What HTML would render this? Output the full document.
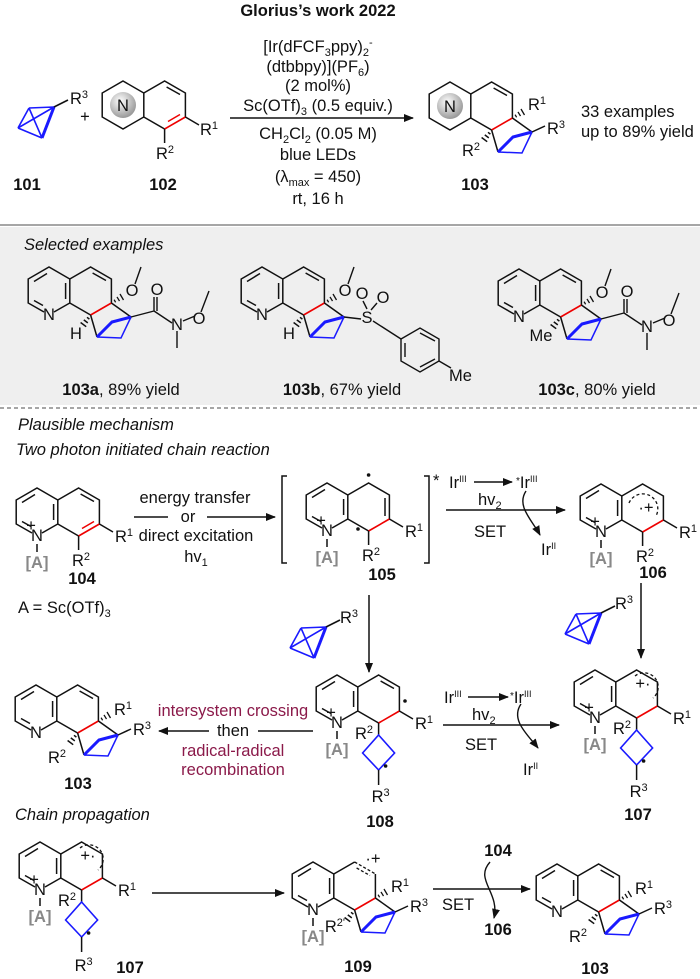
<!DOCTYPE html>
<html><head><meta charset="utf-8"><style>
body{margin:0;background:#fff}
svg{display:block}
text{font-family:"Liberation Sans",sans-serif;font-size:16.5px;fill:#111}
.b{font-weight:bold}
.i{font-style:italic}
.m{text-anchor:middle}
.e{text-anchor:end}
.g{fill:#888;font-weight:bold}
.r{fill:#8b1a4a}
</style></head><body>
<svg width="700" height="979" viewBox="0 0 700 979" xmlns="http://www.w3.org/2000/svg">
<defs>
<marker id="ah" markerWidth="10" markerHeight="8" refX="9" refY="4" orient="auto" markerUnits="userSpaceOnUse"><path d="M0,0 L10,4 L0,8 Z" fill="#111"/></marker>
<g id="pyN" fill="none" stroke="#111" stroke-width="1.5">
<path d="M5,21 L20.8,12 L20.8,-12 L0,-24 L-20.8,-12 L-20.8,12 L-5,21"/>
<path d="M-15,-9.5 L-2,-17.5 M16.6,-8 L16.6,8 M-15,9.5 L-6,14.5"/>
</g>
<g id="rr" fill="none" stroke="#111" stroke-width="1.5">
<path d="M20.8,-12 L41.6,-24 L62.4,-12 L62.4,12 M41.6,24 L20.8,12"/>
</g>
<g id="gh" fill="none" stroke="#111" stroke-width="1.5"><path d="M43.6,-18 L57,-10.5"/></g>
<g id="ij" fill="none" stroke="#e00" stroke-width="1.6"><path d="M62.4,12 L41.6,24"/></g>
<g id="prod" fill="none" stroke-width="1.5">
<path stroke="#111" d="M62.4,12 L82,26 M41.6,24 L48,46"/>
<path stroke="#1a1aff" d="M48,46 L72,47 L82,26"/>
<path stroke="#1a1aff" stroke-width="3" d="M48,46 L63,31 L82,26"/>
<path stroke="#111" d="M38,26.3 L40.4,28.1 M34.8,28.9 L38.8,31.9 M31.6,31.5 L37.2,35.7"/>
</g>
<g id="hashI" fill="none" stroke="#111" stroke-width="1.3"><path d="M65.1,8.7 L66.6,11.3 M68,5.9 L70.5,10.1 M71,3 L74.5,9"/></g>
<g id="bcb" fill="none" stroke="#1a1aff" stroke-width="1.6">
<path d="M-36,21 L0,0 M-25,1 L0,0 M-25,1 L-12,31 M-12,31 L-36,21 M-36,21 L-25,1"/>
<path d="M0,0 L-12,31" stroke-width="3"/>
<path d="M0,0 L14,-7" stroke="#111"/>
</g>
<g id="cb" fill="none" stroke="#1a1aff" stroke-width="1.6"><path d="M0,0 L16,18 L0,35 L-16,18 Z"/></g>
<radialGradient id="gr" cx="40%" cy="35%" r="65%"><stop offset="0" stop-color="#fff"/><stop offset="1" stop-color="#9a9a9a"/></radialGradient>
</defs>

<!-- top -->
<text x="318" y="16" class="b m">Glorius’s work 2022</text>
<g transform="translate(54,107)"><use href="#bcb"/><text x="16" y="-3">R<tspan font-size="11" dy="-6">3</tspan></text></g>
<text x="85" y="122" class="m">+</text>
<g transform="translate(123,105)">
<path d="M0,-24 L20.8,-12 L20.8,12 L0,24 L-20.8,12 L-20.8,-12 Z" fill="none" stroke="#111" stroke-width="1.5"/>
<use href="#rr"/><use href="#gh"/><use href="#ij"/><path d="M57,9.5 L45,16.5" stroke="#e00" stroke-width="1.5"/>
<circle cx="0" cy="0" r="13" fill="url(#gr)"/><text x="0" y="6" class="m">N</text>
<path d="M62.4,12 L76,20 M41.6,24 L41.6,38" stroke="#111" stroke-width="1.5"/>
<text x="77" y="30">R<tspan font-size="11" dy="-6">1</tspan></text>
<text x="42" y="54" class="m">R<tspan font-size="11" dy="-6">2</tspan></text>
</g>
<text x="27" y="190" class="b m">101</text><text x="163" y="190" class="b m">102</text><text x="475" y="190" class="b m">103</text>
<line x1="230" y1="118" x2="413" y2="118" stroke="#111" stroke-width="1.5" marker-end="url(#ah)"/>
<g class="m">
<text x="318" y="52" class="m">[Ir(dFCF<tspan font-size="11" dy="4">3</tspan><tspan dy="-4">ppy)</tspan><tspan font-size="11" dy="4">2</tspan><tspan font-size="11" dy="-10">-</tspan></text>
<text x="318" y="72" class="m">(dtbbpy)](PF<tspan font-size="11" dy="4">6</tspan><tspan dy="-4">)</tspan></text>
<text x="318" y="91" class="m">(2 mol%)</text>
<text x="318" y="111" class="m">Sc(OTf)<tspan font-size="11" dy="4">3</tspan><tspan dy="-4"> (0.5 equiv.)</tspan></text>
<text x="318" y="139" class="m">CH<tspan font-size="11" dy="4">2</tspan><tspan dy="-4">Cl</tspan><tspan font-size="11" dy="4">2</tspan><tspan dy="-4"> (0.05 M)</tspan></text>
<text x="318" y="160" class="m">blue LEDs</text>
<text x="318" y="182" class="m">(λ<tspan font-size="11" dy="4">max</tspan><tspan dy="-4"> = 450)</tspan></text>
<text x="318" y="204" class="m">rt, 16 h</text>
</g>
<g transform="translate(450,106)">
<path d="M0,-24 L20.8,-12 L20.8,12 L0,24 L-20.8,12 L-20.8,-12 Z" fill="none" stroke="#111" stroke-width="1.5"/>
<use href="#rr"/><use href="#gh"/><use href="#ij"/><use href="#prod"/><use href="#hashI"/>
<path d="M82,26 L95,20" stroke="#111" stroke-width="1.5"/>
<circle cx="0" cy="0" r="13" fill="url(#gr)"/><text x="0" y="6" class="m">N</text>
<text x="78" y="4">R<tspan font-size="11" dy="-6">1</tspan></text>
<text x="97" y="28">R<tspan font-size="11" dy="-6">3</tspan></text>
<text x="30" y="50" class="e">R<tspan font-size="11" dy="-6">2</tspan></text>
</g>
<text x="581" y="117">33 examples</text>
<text x="581" y="137">up to 89% yield</text>
<line x1="0" y1="225" x2="700" y2="225" stroke="#888" stroke-width="1.5"/>
<rect x="0" y="227" width="700" height="178" fill="#efefef"/>
<text x="24" y="250" class="i">Selected examples</text>

<!-- 103a -->
<g transform="translate(49,291)">
<use href="#pyN"/><use href="#rr"/><use href="#gh"/><use href="#ij"/><use href="#prod"/><use href="#hashI"/>
<text x="0" y="29" class="m">N</text>
<text x="27" y="48" class="m">H</text>
<text x="83" y="5" class="m">O</text>
<path d="M86,-7 L92,-24 M82,26 L105,20 M105,20 L105,6 M108,20 L108,6 M105,20 L123,32 M128,40 L128,57 M134,30 L146,25 M152,21 L160,0" stroke="#111" stroke-width="1.4" fill="none"/>
<text x="108" y="4" class="m">O</text>
<text x="128" y="39" class="m">N</text>
<text x="150" y="33" class="m">O</text>
</g>
<text x="121" y="395" class="m"><tspan class="b">103a</tspan>, 89% yield</text>
<!-- 103b -->
<g transform="translate(262,291)">
<use href="#pyN"/><use href="#rr"/><use href="#gh"/><use href="#ij"/><use href="#prod"/><use href="#hashI"/>
<text x="0" y="29" class="m">N</text>
<text x="27" y="48" class="m">H</text>
<text x="83" y="5" class="m">O</text>
<path d="M86,-7 L92,-24 M82,26 L99,28 M105,18 L101,10 M109,19 L115,12" stroke="#111" stroke-width="1.4" fill="none"/>
<text x="105" y="32" class="m">S</text>
<text x="100" y="8" class="m">O</text>
<text x="121" y="12" class="m">O</text>
<path d="M111,30 L139,48" stroke="#111" stroke-width="1.4"/>
<path d="M139,48 L158,37 L177,48 L177,70 L158,81 L139,70 Z M143,52 L143,66 M158,42 L173,50 M158,76 L173,68" stroke="#111" stroke-width="1.4" fill="none"/>
<path d="M177,70 L189,77" stroke="#111" stroke-width="1.4"/>
<text x="187" y="90">Me</text>
</g>
<text x="342" y="395" class="m"><tspan class="b">103b</tspan>, 67% yield</text>
<!-- 103c -->
<g transform="translate(519,293)">
<use href="#pyN"/><use href="#rr"/><use href="#gh"/><use href="#ij"/><use href="#prod"/><use href="#hashI"/>
<text x="0" y="29" class="m">N</text>
<text x="22" y="48" class="m">Me</text>
<text x="83" y="5" class="m">O</text>
<path d="M86,-7 L92,-24 M82,26 L105,20 M105,20 L105,6 M108,20 L108,6 M105,20 L123,32 M128,40 L128,57 M134,30 L146,25 M152,21 L160,0" stroke="#111" stroke-width="1.4" fill="none"/>
<text x="108" y="4" class="m">O</text>
<text x="128" y="39" class="m">N</text>
<text x="150" y="33" class="m">O</text>
</g>
<text x="597" y="395" class="m"><tspan class="b">103c</tspan>, 80% yield</text>
<line x1="0" y1="408" x2="700" y2="408" stroke="#888" stroke-width="1.5" stroke-dasharray="4,3"/>

<!-- mechanism -->
<text x="18" y="430" class="i">Plausible mechanism</text>
<text x="16" y="455" class="i">Two photon initiated chain reaction</text>

<!-- 104 -->
<g transform="translate(37,512)">
<use href="#pyN"/><use href="#rr"/><use href="#gh"/><use href="#ij"/><path d="M57,9.5 L45,16.5" stroke="#e00" stroke-width="1.5"/>
<text x="0" y="29" class="m">N</text><text x="-6" y="19" class="m" font-size="11">+</text>
<path d="M0,32 L0,40 M62.4,12 L76,20 M41.6,24 L41.6,38" stroke="#111" stroke-width="1.5"/>
<text x="0" y="56" class="m g">[A]</text>
<text x="78" y="30">R<tspan font-size="11" dy="-6">1</tspan></text>
<text x="44" y="54" class="m">R<tspan font-size="11" dy="-6">2</tspan></text>
<text x="45" y="72" class="b m">104</text>
</g>
<text x="18" y="613">A = Sc(OTf)<tspan font-size="11" dy="4">3</tspan></text>
<line x1="134" y1="517" x2="168" y2="517" stroke="#111" stroke-width="1.5"/>
<line x1="207" y1="517" x2="275" y2="517" stroke="#111" stroke-width="1.5" marker-end="url(#ah)"/>
<text x="195" y="503" class="m">energy transfer</text>
<text x="188" y="522" class="m">or</text>
<text x="196" y="541" class="m">direct excitation</text>
<text x="196" y="562" class="m">hv<tspan font-size="11" dy="4">1</tspan></text>

<!-- 105 -->
<path d="M287,476 L282,476 L282,563 L287,563 M424,476 L429,476 L429,563 L424,563" fill="none" stroke="#111" stroke-width="1.5"/>
<text x="433" y="486" font-size="12">*</text>
<g transform="translate(327,507)">
<use href="#pyN"/>
<path d="M20.8,-12 L41.6,-24 L62.4,-12 L62.4,12 M41.6,24 L20.8,12 M58,-9 L58,9" fill="none" stroke="#111" stroke-width="1.5"/>
<use href="#ij"/>
<circle cx="41.6" cy="-32" r="1.8" fill="#111"/><circle cx="31" cy="22" r="1.8" fill="#111"/>
<text x="0" y="29" class="m">N</text><text x="-6" y="19" class="m" font-size="11">+</text>
<path d="M0,32 L0,40 M62.4,12 L76,20 M41.6,24 L41.6,38" stroke="#111" stroke-width="1.5"/>
<text x="0" y="56" class="m g">[A]</text>
<text x="78" y="30">R<tspan font-size="11" dy="-6">1</tspan></text>
<text x="44" y="54" class="m">R<tspan font-size="11" dy="-6">2</tspan></text>
<text x="55" y="73" class="b m">105</text>
</g>
<text x="449" y="488">Ir<tspan font-size="9" dy="-6">III</tspan></text>
<line x1="474" y1="482" x2="512" y2="482" stroke="#111" stroke-width="1.5" marker-end="url(#ah)"/>
<text x="516" y="488"><tspan font-size="10" dy="-4">*</tspan><tspan dy="4">Ir</tspan><tspan font-size="9" dy="-6">III</tspan></text>
<text x="478" y="505">hv<tspan font-size="11" dy="4">2</tspan></text>
<line x1="446" y1="510" x2="565" y2="510" stroke="#111" stroke-width="1.5" marker-end="url(#ah)"/>
<text x="490" y="537" class="m">SET</text>
<path d="M526,491 C516,506 532,520 540,535" fill="none" stroke="#111" stroke-width="1.4" marker-end="url(#ah)"/>
<text x="541" y="555">Ir<tspan font-size="9" dy="-6">II</tspan></text>

<!-- 106 -->
<g transform="translate(601,508)">
<use href="#pyN"/><use href="#rr"/><use href="#ij"/>
<path d="M28,-5 A15,15 0 1 1 55,8" fill="none" stroke="#111" stroke-width="1.3" stroke-dasharray="3,2.5"/>
<text x="45" y="5" class="m" font-size="12">·+</text>
<text x="0" y="29" class="m">N</text><text x="-6" y="19" class="m" font-size="11">+</text>
<path d="M0,32 L0,40 M62.4,12 L76,20 M41.6,24 L41.6,38" stroke="#111" stroke-width="1.5"/>
<text x="0" y="56" class="m g">[A]</text>
<text x="78" y="30">R<tspan font-size="11" dy="-6">1</tspan></text>
<text x="44" y="54" class="m">R<tspan font-size="11" dy="-6">2</tspan></text>
<text x="52" y="70" class="b m">106</text>
</g>
<line x1="369" y1="595" x2="369" y2="672" stroke="#111" stroke-width="1.5" marker-end="url(#ah)"/>
<line x1="641" y1="583" x2="641" y2="658" stroke="#111" stroke-width="1.5" marker-end="url(#ah)"/>
<g transform="translate(326,627)"><use href="#bcb"/><text x="14" y="-4">R<tspan font-size="11" dy="-6">3</tspan></text></g>
<g transform="translate(601,613)"><use href="#bcb"/><text x="14" y="-4">R<tspan font-size="11" dy="-6">3</tspan></text></g>

<!-- 103 mid -->
<g transform="translate(36,709)">
<use href="#pyN"/><use href="#rr"/><use href="#gh"/><use href="#ij"/><use href="#prod"/><use href="#hashI"/>
<path d="M82,26 L95,20" stroke="#111" stroke-width="1.5"/>
<text x="0" y="29" class="m">N</text>
<text x="78" y="6">R<tspan font-size="11" dy="-6">1</tspan></text>
<text x="97" y="26">R<tspan font-size="11" dy="-6">3</tspan></text>
<text x="30" y="54" class="e">R<tspan font-size="11" dy="-6">2</tspan></text>
<text x="42" y="80" class="b m">103</text>
</g>
<line x1="313" y1="731" x2="258" y2="731" stroke="#111" stroke-width="1.5"/>
<line x1="209" y1="731" x2="159" y2="731" stroke="#111" stroke-width="1.5" marker-end="url(#ah)"/>
<text x="233" y="716" class="m r">intersystem crossing</text>
<text x="233" y="736" class="m">then</text>
<text x="233" y="756" class="m r">radical-radical</text>
<text x="233" y="775" class="m r">recombination</text>

<!-- 108 -->
<g transform="translate(337,699)">
<use href="#pyN"/><use href="#rr"/><use href="#gh"/><use href="#ij"/>
<circle cx="68" cy="2" r="1.8" fill="#111"/>
<text x="0" y="29" class="m">N</text><text x="-6" y="19" class="m" font-size="11">+</text>
<path d="M0,32 L0,40 M62.4,12 L76,20 M41.6,24 L41.6,36" stroke="#111" stroke-width="1.5"/>
<text x="0" y="56" class="m g">[A]</text>
<text x="78" y="30">R<tspan font-size="11" dy="-6">1</tspan></text>
<text x="36" y="40" class="e">R<tspan font-size="11" dy="-6">2</tspan></text>
<g transform="translate(41.6,36)"><use href="#cb"/><circle cx="7" cy="31" r="1.8" fill="#111"/><path d="M0,35 L0,50" stroke="#111" stroke-width="1.5"/><text x="2" y="67" class="m">R<tspan font-size="11" dy="-6">3</tspan></text></g>
<text x="43" y="128" class="b m">108</text>
</g>
<text x="444" y="703">Ir<tspan font-size="9" dy="-6">III</tspan></text>
<line x1="468" y1="697" x2="508" y2="697" stroke="#111" stroke-width="1.5" marker-end="url(#ah)"/>
<text x="510" y="703"><tspan font-size="10" dy="-4">*</tspan><tspan dy="4">Ir</tspan><tspan font-size="9" dy="-6">III</tspan></text>
<text x="472" y="720">hv<tspan font-size="11" dy="4">2</tspan></text>
<line x1="443" y1="725" x2="559" y2="725" stroke="#111" stroke-width="1.5" marker-end="url(#ah)"/>
<text x="481" y="750" class="m">SET</text>
<path d="M521,704 C510,720 528,735 538,748" fill="none" stroke="#111" stroke-width="1.4" marker-end="url(#ah)"/>
<text x="523" y="775">Ir<tspan font-size="9" dy="-6">II</tspan></text>

<!-- 107 right -->
<g transform="translate(595,694)">
<use href="#pyN"/><use href="#rr"/><use href="#ij"/>
<path d="M40,-18 A14,14 0 0 1 58,4" fill="none" stroke="#111" stroke-width="1.3" stroke-dasharray="3,2.5"/>
<text x="48" y="-5" class="m" font-size="12">+·</text>
<text x="0" y="29" class="m">N</text><text x="-6" y="19" class="m" font-size="11">+</text>
<path d="M0,32 L0,40 M62.4,12 L76,20 M41.6,24 L41.6,36" stroke="#111" stroke-width="1.5"/>
<text x="0" y="56" class="m g">[A]</text>
<text x="78" y="30">R<tspan font-size="11" dy="-6">1</tspan></text>
<text x="36" y="40" class="e">R<tspan font-size="11" dy="-6">2</tspan></text>
<g transform="translate(41.6,36)"><use href="#cb"/><circle cx="7" cy="31" r="1.8" fill="#111"/><path d="M0,35 L0,50" stroke="#111" stroke-width="1.5"/><text x="2" y="67" class="m">R<tspan font-size="11" dy="-6">3</tspan></text></g>
<text x="43" y="126" class="b m">107</text>
</g>

<text x="15" y="820" class="i">Chain propagation</text>
<!-- 107 bottom -->
<g transform="translate(40,866)">
<use href="#pyN"/><use href="#rr"/><use href="#ij"/>
<path d="M40,-18 A14,14 0 0 1 58,4" fill="none" stroke="#111" stroke-width="1.3" stroke-dasharray="3,2.5"/>
<text x="48" y="-5" class="m" font-size="12">+·</text>
<text x="0" y="29" class="m">N</text><text x="-6" y="19" class="m" font-size="11">+</text>
<path d="M0,32 L0,40 M62.4,12 L76,20 M41.6,24 L41.6,36" stroke="#111" stroke-width="1.5"/>
<text x="0" y="56" class="m g">[A]</text>
<text x="78" y="30">R<tspan font-size="11" dy="-6">1</tspan></text>
<text x="36" y="40" class="e">R<tspan font-size="11" dy="-6">2</tspan></text>
<g transform="translate(41.6,36)"><use href="#cb"/><circle cx="7" cy="31" r="1.8" fill="#111"/><path d="M0,35 L0,50" stroke="#111" stroke-width="1.5"/><text x="2" y="69" class="m">R<tspan font-size="11" dy="-6">3</tspan></text></g>
<text x="90" y="107" class="b m">107</text>
</g>
<line x1="152" y1="893" x2="284" y2="893" stroke="#111" stroke-width="1.5" marker-end="url(#ah)"/>

<!-- 109 -->
<g transform="translate(313,886)">
<use href="#pyN"/>
<path d="M20.8,-12 L41.6,-24 M62.4,-12 L62.4,12 M41.6,24 L20.8,12" fill="none" stroke="#111" stroke-width="1.5"/>
<path d="M41.6,-24 L62.4,-12 M43.6,-18 L57,-10.5" fill="none" stroke="#111" stroke-width="1.3" stroke-dasharray="3,2"/>
<use href="#ij"/><use href="#prod"/><use href="#hashI"/>
<path d="M82,26 L95,20" stroke="#111" stroke-width="1.5"/>
<text x="60" y="-22" class="m" font-size="12">·+</text>
<text x="0" y="29" class="m">N</text>
<path d="M0,32 L0,40" stroke="#111" stroke-width="1.5"/>
<text x="0" y="56" class="m g">[A]</text>
<text x="78" y="6">R<tspan font-size="11" dy="-6">1</tspan></text>
<text x="97" y="26">R<tspan font-size="11" dy="-6">3</tspan></text>
<text x="32" y="46" class="e">R<tspan font-size="11" dy="-6">2'</tspan></text>
<text x="45" y="86" class="b m">109</text>
</g>
<line x1="433" y1="889" x2="530" y2="889" stroke="#111" stroke-width="1.5" marker-end="url(#ah)"/>
<text x="498" y="856" class="b m">104</text>
<text x="498" y="935" class="b m">106</text>
<text x="458" y="910" class="m">SET</text>
<path d="M490,862 C474,880 500,892 494,918" fill="none" stroke="#111" stroke-width="1.4" marker-end="url(#ah)"/>

<!-- 103 bottom -->
<g transform="translate(557,888)">
<use href="#pyN"/><use href="#rr"/><use href="#gh"/><use href="#ij"/><use href="#prod"/><use href="#hashI"/>
<path d="M82,26 L95,20" stroke="#111" stroke-width="1.5"/>
<text x="0" y="29" class="m">N</text>
<text x="78" y="6">R<tspan font-size="11" dy="-6">1</tspan></text>
<text x="97" y="26">R<tspan font-size="11" dy="-6">3</tspan></text>
<text x="30" y="54" class="e">R<tspan font-size="11" dy="-6">2</tspan></text>
<text x="38" y="86" class="b m">103</text>
</g>
</svg>
</body></html>
